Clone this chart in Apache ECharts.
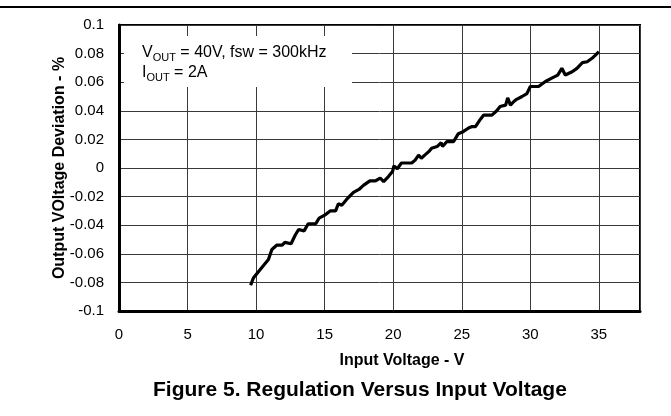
<!DOCTYPE html>
<html>
<head>
<meta charset="utf-8">
<title>Regulation Versus Input Voltage</title>
<script src="https://cdn.jsdelivr.net/npm/echarts@6/dist/echarts.min.js"></script>
<style>
  html, body { margin: 0; padding: 0; background: #fff; }
  #main { width: 671px; height: 416px; }
</style>
</head>
<body>
<div id="main"></div>
<script>
// input voltage (V)
var inputVoltage = [
  9.6, 9.8, 10.3, 10.9, 11.15, 11.5, 11.9, 12.1, 12.55, 12.85,
  13.1, 13.5, 13.8, 14.35, 14.6, 15.0, 15.4, 15.8, 16.0, 16.25,
  16.6, 17.1, 17.5, 17.85, 18.3, 18.7, 19.05, 19.3, 19.65, 19.95,
  20.05, 20.3, 20.6, 21.35, 21.6, 21.85, 22.05, 22.3, 22.65, 22.8,
  23.2, 23.5, 23.6, 23.9, 24.4, 24.75, 25.1, 25.5, 25.75, 26.0,
  26.35, 26.6, 27.2, 27.55, 27.8, 28.2, 28.35, 28.55, 28.8, 29.0,
  29.4, 29.75, 30.0, 30.6, 31.1, 31.6, 32.0, 32.3, 32.55, 33.05,
  33.4, 33.8, 34.15, 34.5, 34.75, 35.0
]
// output voltage deviation (%)
var deviation = [
  -0.082, -0.077, -0.071, -0.064, -0.057, -0.054, -0.054, -0.052, -0.053, -0.047,
  -0.043, -0.044, -0.039, -0.039, -0.035, -0.033, -0.030, -0.030, -0.025, -0.026,
  -0.022, -0.017, -0.015, -0.012, -0.009, -0.009, -0.007, -0.0095, -0.006, -0.0025,
  0.0015, -0.0005, 0.0035, 0.0035, 0.0055, 0.009, 0.0068, 0.009, 0.012, 0.0138,
  0.015, 0.0177, 0.015, 0.0184, 0.0184, 0.024, 0.0254, 0.028, 0.029, 0.029,
  0.034, 0.037, 0.037, 0.040, 0.043, 0.044, 0.049, 0.044, 0.0465, 0.048,
  0.050, 0.052, 0.057, 0.057, 0.0605, 0.063, 0.065, 0.0697, 0.065, 0.0673,
  0.0697, 0.0737, 0.0743, 0.0767, 0.079, 0.0813
]

var xRange = [0, 38]
var yRange = [-0.1, 0.1]
var annotation = ['V', 'OUT', ' = 40V, fsw = 300kHz', 'I', 'OUT', ' = 2A']

var font = "'Liberation Sans', Arial, Helvetica, sans-serif"

function setOption (chart) {
  var points = inputVoltage.map(function (v, i) { return [v, deviation[i]] })

  chart.setOption({
    animation: false,
    backgroundColor: '#fff',
    textStyle: { fontFamily: font },
    title: {
      text: 'Figure 5. Regulation Versus Input Voltage',
      left: 153,
      top: 380,
      padding: 0,
      textStyle: { fontFamily: font, fontSize: 21, fontWeight: 'bold', color: '#000' }
    },
    grid: {
      left: 119,
      right: 31,
      top: 25,
      bottom: 105,
      show: true,
      borderColor: '#000',
      borderWidth: 2
    },
    xAxis: {
      type: 'value',
      min: xRange[0],
      max: xRange[1],
      interval: 5,
      name: 'Input Voltage - V',
      nameLocation: 'middle',
      nameGap: 42,
      nameMoveOverlap: false,
      nameTextStyle: { fontFamily: font, fontSize: 16, fontWeight: 'bold', color: '#000', padding: [0, 0, 0, 45] },
      axisLine: { show: true, onZero: false, lineStyle: { color: '#000', width: 3 } },
      axisTick: { show: false },
      axisLabel: { margin: 16, fontSize: 15, color: '#000', showMaxLabel: false },
      splitLine: { show: true, lineStyle: { color: '#3a3a3a', width: 1 } }
    },
    yAxis: {
      type: 'value',
      min: yRange[0],
      max: yRange[1],
      interval: 0.02,
      name: 'Output VOltage Deviation - %',
      nameLocation: 'middle',
      nameGap: 51,
      nameMoveOverlap: false,
      nameTextStyle: { fontFamily: font, fontSize: 16, fontWeight: 'bold', color: '#000' },
      axisLine: { show: true, lineStyle: { color: '#000', width: 3 } },
      axisTick: { show: false },
      axisLabel: { margin: 15, fontSize: 15, color: '#000' },
      splitLine: { show: true, lineStyle: { color: '#3a3a3a', width: 1 } }
    },
    graphic: [
      // rule across the top of the figure
      { type: 'line', z: 10, shape: { x1: 0, y1: 7, x2: 671, y2: 7 }, style: { stroke: '#000', lineWidth: 2 } },
      // white box behind the operating conditions
      { type: 'rect', z: 10, shape: { x: 124, y: 36, width: 228, height: 51 }, style: { fill: '#fff' } },
      {
        type: 'text',
        z: 11,
        left: 142,
        top: 45,
        style: {
          text: '{v|' + annotation[0] + '}{s|' + annotation[1] + '}{v|' + annotation[2] + '}\n' +
                '{v|' + annotation[3] + '}{s|' + annotation[4] + '}{v|' + annotation[5] + '}',
          fill: '#000',
          font: '16px ' + font,
          rich: {
            v: { fontSize: 16, lineHeight: 20, fontFamily: font, fill: '#000' },
            s: { fontSize: 11, lineHeight: 12, verticalAlign: 'bottom', fontFamily: font, fill: '#000' }
          }
        }
      }
    ],
    series: [
      {
        type: 'line',
        data: points,
        showSymbol: false,
        smooth: false,
        lineStyle: { color: '#000', width: 3.2 },
        z: 3
      }
    ]
  })
}

var chart = echarts.init(document.getElementById('main'))
setOption(chart)
</script>
</body>
</html>
